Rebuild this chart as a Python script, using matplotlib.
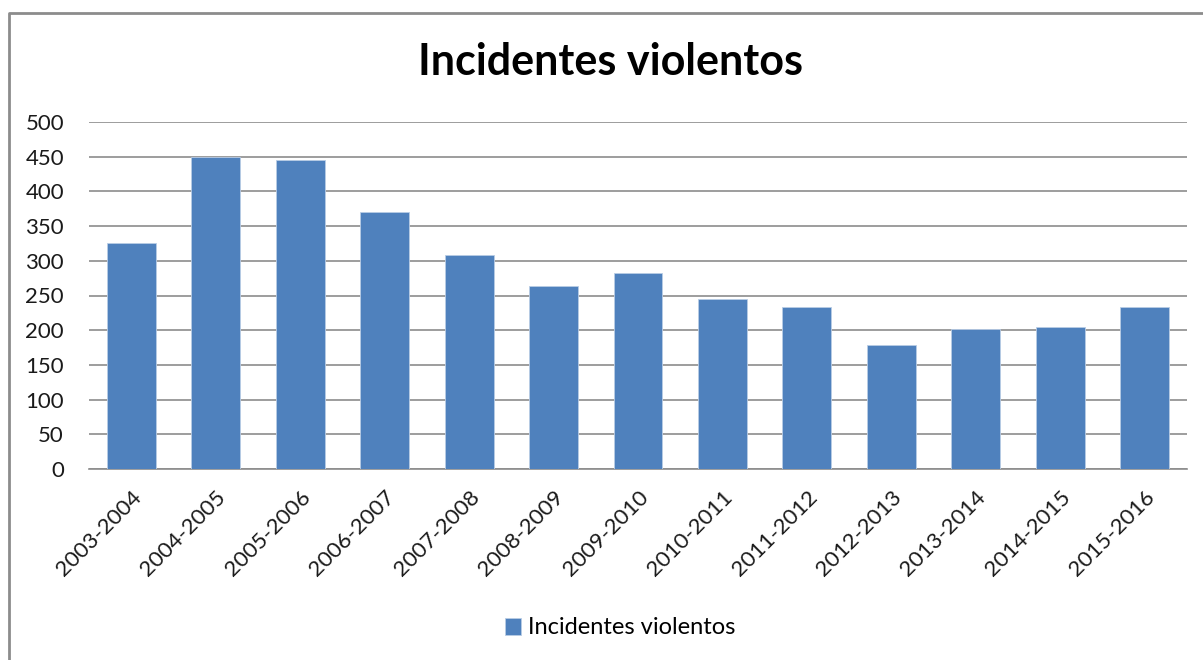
import matplotlib
matplotlib.use("Agg")
import matplotlib.pyplot as plt
from matplotlib.lines import Line2D

categories = ["2003-2004", "2004-2005", "2005-2006", "2006-2007", "2007-2008",
              "2008-2009", "2009-2010", "2010-2011", "2011-2012", "2012-2013",
              "2013-2014", "2014-2015", "2015-2016"]
values = [326, 450, 445, 370, 308, 263, 283, 245, 233, 179, 202, 204, 233]
yticks = [0, 50, 100, 150, 200, 250, 300, 350, 400, 450, 500]
series_name = "Incidentes violentos"
title = "Incidentes violentos"

plt.rcParams['font.family'] = ['Lato', 'DejaVu Sans']

W, H = 1203, 660
fig = plt.figure(figsize=(W / 100, H / 100), dpi=100)
ax = fig.add_axes([89 / W, 1 - 469 / H, (1187 - 89) / W, (469 - 122) / H])

x = list(range(len(categories)))
ax.bar(x, values, width=0.58, color="#4F81BD", edgecolor="#B9CDE5", linewidth=0.6,
       label=series_name, zorder=3)

ax.set_xlim(-0.5, len(categories) - 0.5)
ax.set_ylim(0, 500)
ax.set_yticks(yticks)
ax.set_yticklabels([str(t) for t in yticks], fontsize=16, color="#1a1a1a")
ax.set_xticks(x)
ax.set_xticklabels(categories, rotation=45, ha="right", rotation_mode="anchor",
                   fontsize=16, color="#1a1a1a")
ax.tick_params(axis="both", length=0)
ax.tick_params(axis="y", pad=18)
ax.tick_params(axis="x", pad=13)
ax.grid(axis="y", color="#8C8C8C", linewidth=1.2, zorder=0)
ax.set_axisbelow(True)
for s in ["top", "right", "left"]:
    ax.spines[s].set_visible(False)
ax.spines["bottom"].set_color("#8C8C8C")
ax.spines["bottom"].set_linewidth(1.2)

fig.text(611 / W, 1 - 62 / H, title, ha="center", va="center",
         fontsize=31, fontweight="bold", color="black")

fig.legend(loc="center", bbox_to_anchor=(620 / W, 1 - 628 / H), frameon=False,
           fontsize=17, handlelength=0.7, handleheight=0.7, handletextpad=0.3)

# chart border (left and top visible)
fig.add_artist(Line2D([9 / W, 9 / W, 1.0], [0, 1 - 13 / H, 1 - 13 / H],
                      transform=fig.transFigure, color="#8C8C8C", linewidth=2))

fig.savefig("out.png", dpi=100, facecolor="white")
